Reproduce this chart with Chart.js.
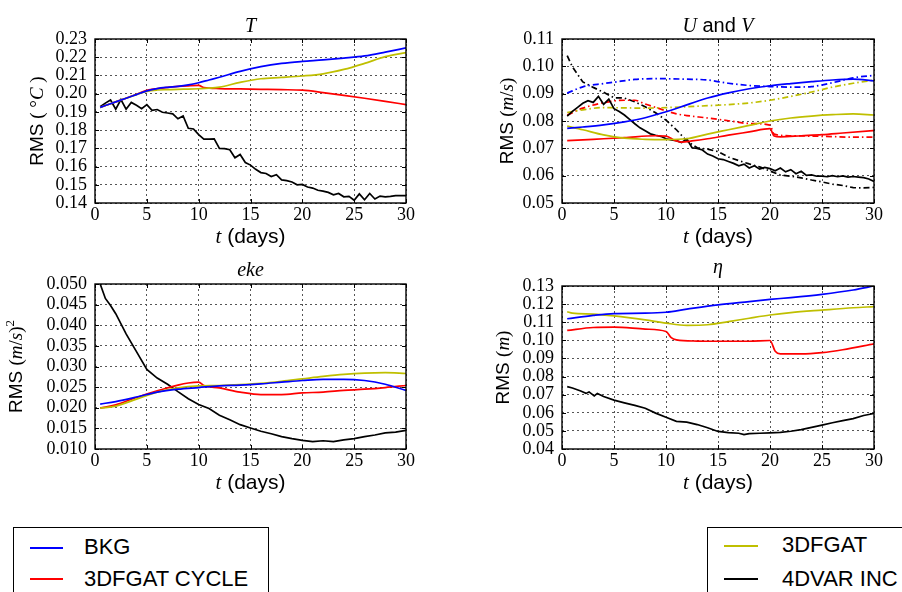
<!DOCTYPE html>
<html lang="en">
<head>
<meta charset="UTF-8" />
<title>RMS over time</title>
<script src="https://cdn.jsdelivr.net/npm/chart.js@4.4.0/dist/chart.umd.min.js"></script>
<style>
  body { margin: 0; background: #fff; width: 902px; height: 592px; position: relative; overflow: hidden; }
  canvas { position: absolute; }
  .legend { position: absolute; border: 1px solid #000; background: #fff; font: 22px "Liberation Sans", Arial, sans-serif; color: #000; }
  .legend .row { position: absolute; height: 30px; line-height: 30px; white-space: nowrap; }
  .legend .sw { position: absolute; height: 2px; }
</style>
</head>
<body>
<canvas id="cT" width="451" height="260" style="left:0;top:0"></canvas>
<canvas id="cUV" width="451" height="260" style="left:451px;top:0"></canvas>
<canvas id="cEke" width="451" height="250" style="left:0;top:260px"></canvas>
<canvas id="cEta" width="451" height="250" style="left:451px;top:260px"></canvas>

<div class="legend" style="left:13px;top:527px;width:254px;height:90px">
  <div class="sw" style="left:16px;width:33px;top:19px;background:#0000ff"></div>
  <div class="row" style="left:70px;top:4px">BKG</div>
  <div class="sw" style="left:16px;width:33px;top:50px;background:#ff0000"></div>
  <div class="row" style="left:70px;top:36px">3DFGAT CYCLE</div>
</div>
<div class="legend" style="left:707px;top:527px;width:240px;height:90px">
  <div class="sw" style="left:16px;width:34px;top:17px;background:#bfbf00"></div>
  <div class="row" style="left:74px;top:2px">3DFGAT</div>
  <div class="sw" style="left:16px;width:34px;top:50px;background:#000"></div>
  <div class="row" style="left:74px;top:36px">4DVAR INC</div>
</div>

<script>
// ---- T panel ----
const tDays = [0.5, 1, 2, 3, 4, 5, 6, 7, 8, 9, 10, 11, 12, 14, 16, 18, 20, 22, 24, 26, 28, 30];
const tBkg = [0.1925, 0.1935, 0.1955, 0.1975, 0.1995, 0.2015, 0.2028, 0.2035, 0.204, 0.2048, 0.206, 0.2075, 0.209, 0.2122, 0.2148, 0.2166, 0.2177, 0.2185, 0.2195, 0.2207, 0.2228, 0.2251];
const t3dfgat = [0.1925, 0.1935, 0.1955, 0.1975, 0.1995, 0.2013, 0.202, 0.2022, 0.2024, 0.2025, 0.2027, 0.203, 0.2036, 0.2062, 0.2082, 0.2089, 0.2097, 0.2109, 0.2133, 0.2166, 0.2203, 0.2225];
const tCycleDays = [0.5, 1, 2, 3, 4, 5, 6, 7, 8, 9, 10, 10.5, 12, 14, 16, 18, 20, 22, 24, 26, 28, 30];
const tCycle = [0.1925, 0.1935, 0.1955, 0.1975, 0.1997, 0.2018, 0.2028, 0.2035, 0.204, 0.2043, 0.2045, 0.2033, 0.2028, 0.2026, 0.2024, 0.2022, 0.2019, 0.2006, 0.1991, 0.1975, 0.1958, 0.194];
const tVarDays = [0.5, 1, 1.5, 2, 2.5, 3, 3.5, 4, 4.5, 5, 5.5, 6, 6.5, 7, 7.5, 8, 8.5, 9, 9.5, 10, 10.5, 11, 11.5, 12, 12.5, 13, 13.5, 14, 14.5, 15, 15.5, 16, 16.5, 17, 17.5, 18, 18.5, 19, 19.5, 20, 20.5, 21, 21.5, 22, 22.5, 23, 23.5, 24, 24.5, 25, 25.5, 26, 26.5, 27, 27.5, 28, 28.5, 29, 29.5, 30];
const tVar = [0.1928, 0.1948, 0.1965, 0.1915, 0.1968, 0.1915, 0.1952, 0.1936, 0.1918, 0.194, 0.1908, 0.1913, 0.1898, 0.1894, 0.1889, 0.1862, 0.1878, 0.181, 0.1806, 0.1775, 0.175, 0.175, 0.1752, 0.17, 0.1698, 0.1692, 0.1648, 0.1666, 0.1622, 0.1608, 0.1585, 0.1567, 0.1562, 0.1545, 0.1555, 0.1527, 0.1523, 0.1515, 0.15, 0.1502, 0.1488, 0.1482, 0.147, 0.1465, 0.1458, 0.1445, 0.1452, 0.1434, 0.1436, 0.1415, 0.145, 0.1418, 0.1452, 0.1422, 0.1438, 0.1434, 0.1436, 0.144, 0.1441, 0.1441];

// ---- U and V panel (solid = U, dash-dot = V) ----
const uvDays = [0.5, 2, 4, 6, 8, 10, 12, 14, 16, 18, 20, 22, 24, 26, 28, 30];
const uBkg = [0.0773, 0.0778, 0.0786, 0.0797, 0.0812, 0.0834, 0.0859, 0.0884, 0.0903, 0.0918, 0.0929, 0.0937, 0.0944, 0.095, 0.0953, 0.0947];
const u3dfgat = [0.0781, 0.0768, 0.0749, 0.0737, 0.0733, 0.0732, 0.0735, 0.0752, 0.0768, 0.0784, 0.08, 0.0811, 0.0818, 0.0823, 0.0826, 0.0822];
const uCycleDays = [0.5, 3, 6, 9, 10, 10.8, 11.5, 12.5, 14, 16, 18, 20, 20.4, 21, 23, 25, 27, 30];
const uCycle = [0.0728, 0.0733, 0.0739, 0.0746, 0.0745, 0.073, 0.0723, 0.0727, 0.0735, 0.0748, 0.076, 0.0772, 0.0745, 0.0742, 0.0746, 0.075, 0.0756, 0.0765];
const uVarDays = tVarDays;
const uVar = [0.0818, 0.0835, 0.085, 0.0865, 0.0874, 0.0868, 0.089, 0.0861, 0.088, 0.0845, 0.0835, 0.0822, 0.0806, 0.079, 0.0775, 0.0764, 0.0753, 0.0748, 0.0744, 0.0735, 0.0731, 0.0728, 0.0721, 0.0735, 0.0702, 0.07, 0.0694, 0.0679, 0.0672, 0.0662, 0.0659, 0.0652, 0.0645, 0.0636, 0.0642, 0.0628, 0.0636, 0.0624, 0.063, 0.0626, 0.0618, 0.0628, 0.0614, 0.0622, 0.0607, 0.0616, 0.0601, 0.0603, 0.0598, 0.0598, 0.0596, 0.06, 0.0596, 0.0599, 0.0595, 0.0597, 0.0595, 0.0593, 0.0588, 0.0579];
const vBkgDays = [0.5, 2, 4, 5, 7, 9, 12, 14, 16, 18, 20, 22, 24, 26, 28, 30];
const vBkg = [0.0902, 0.0925, 0.0937, 0.0942, 0.0952, 0.0955, 0.0953, 0.095, 0.0938, 0.093, 0.0926, 0.0924, 0.0926, 0.094, 0.0958, 0.0967];
const v3dfgat = [0.0831, 0.0841, 0.0849, 0.0848, 0.0847, 0.0849, 0.0852, 0.0856, 0.086, 0.0866, 0.0876, 0.089, 0.0906, 0.0924, 0.0938, 0.095];
const vCycleDays = [0.5, 2, 4, 6, 7, 8, 9, 10, 11, 12, 14, 16, 18, 20, 20.4, 22, 25, 28, 30];
const vCycle = [0.0822, 0.0847, 0.0867, 0.0876, 0.0876, 0.0862, 0.085, 0.0837, 0.0826, 0.082, 0.0811, 0.0801, 0.0791, 0.0785, 0.0752, 0.0746, 0.0744, 0.0741, 0.0741];
const vVarDays = [0.5, 1, 2, 3, 4, 5, 6, 7, 8, 9, 10, 11, 12, 13, 14, 15, 16, 17, 18, 19, 20, 21, 22, 23, 24, 25, 26, 27, 28, 29, 30];
const vVar = [0.1039, 0.0998, 0.0943, 0.0923, 0.0905, 0.0885, 0.0884, 0.087, 0.0852, 0.083, 0.0803, 0.0768, 0.0727, 0.0702, 0.0697, 0.0688, 0.0668, 0.0655, 0.0643, 0.0632, 0.0617, 0.0602, 0.0598, 0.0592, 0.0584, 0.0577, 0.0569, 0.0564, 0.0556, 0.0555, 0.0557];

// ---- eke panel ----
const ekeDays = [0.5, 2, 4, 6, 8, 10, 12, 14, 16, 18, 20, 22, 24, 26, 28, 30];
const ekeBkg = [0.0209, 0.0215, 0.0226, 0.0238, 0.0245, 0.0249, 0.0253, 0.0255, 0.0258, 0.0262, 0.0266, 0.0269, 0.0269, 0.0266, 0.0257, 0.0242];
const eke3dfgat = [0.0199, 0.0204, 0.0221, 0.0238, 0.0248, 0.0253, 0.0254, 0.0256, 0.0259, 0.0264, 0.027, 0.0276, 0.0281, 0.0284, 0.0285, 0.0283];
const ekeCycleDays = [0.5, 2, 4, 6, 8, 9, 10, 10.5, 12, 14, 16, 18, 20, 22, 24, 26, 28, 30];
const ekeCycle = [0.0199, 0.0207, 0.0225, 0.0241, 0.0255, 0.026, 0.0262, 0.0254, 0.0248, 0.0238, 0.0232, 0.0232, 0.0236, 0.0238, 0.0242, 0.0245, 0.0249, 0.0254];
const ekeVarDays = [0.5, 1, 1.5, 2, 3, 4, 5, 6, 7, 8, 9, 10, 11, 12, 13, 14, 15, 16, 17, 18, 19, 20, 21, 22, 23, 24, 25, 26, 27, 28, 29, 30];
const ekeVar = [0.05, 0.0465, 0.0448, 0.0428, 0.0379, 0.0336, 0.0293, 0.0272, 0.0257, 0.0239, 0.0222, 0.0208, 0.0198, 0.0182, 0.0171, 0.0159, 0.0151, 0.0143, 0.0137, 0.013, 0.0125, 0.0121, 0.0118, 0.012, 0.0118, 0.0122, 0.0125, 0.013, 0.0134, 0.0139, 0.0141, 0.0145];

// ---- eta panel ----
const etaBkgDays = [0.5, 3, 5, 8, 10, 12, 15, 18, 20, 22, 25, 28, 30];
const etaBkg = [0.1119, 0.1138, 0.1148, 0.115, 0.1155, 0.1172, 0.1196, 0.1214, 0.1226, 0.1236, 0.1254, 0.1278, 0.13];
const eta3dfgatDays = [0.5, 1, 3, 5, 8, 10, 12, 14, 16, 18, 20, 22, 25, 28, 30];
const eta3dfgat = [0.1158, 0.115, 0.1145, 0.1135, 0.1113, 0.1095, 0.1083, 0.1086, 0.1103, 0.1122, 0.114, 0.1153, 0.1167, 0.118, 0.1186];
const etaCycleDays = [0.5, 3, 5, 8, 10, 10.5, 11, 13, 15, 18, 20, 20.5, 21, 23, 25, 27, 30];
const etaCycle = [0.1055, 0.1071, 0.1073, 0.1062, 0.1049, 0.1015, 0.1003, 0.0996, 0.0995, 0.0995, 0.0999, 0.094, 0.0925, 0.0925, 0.0932, 0.0948, 0.0981];
const etaVarDays = [0.5, 1, 1.8, 2.3, 2.6, 3.1, 3.4, 4, 5, 6, 7, 8, 9, 10, 11, 12, 13, 14, 15, 16, 17, 17.5, 18, 19, 20, 21, 22, 23, 24, 25, 26, 27, 28, 29, 30];
const etaVar = [0.0744, 0.0737, 0.072, 0.0707, 0.0715, 0.0693, 0.0707, 0.069, 0.067, 0.0655, 0.0641, 0.0625, 0.0598, 0.0575, 0.0553, 0.0548, 0.0535, 0.0517, 0.0497, 0.049, 0.0487, 0.0479, 0.0485, 0.0487, 0.0489, 0.0492, 0.0498, 0.0507, 0.0519, 0.0532, 0.0545, 0.0557, 0.0568, 0.0585, 0.0596];

const BLUE = "#0000ff", RED = "#ff0000", YELLOW = "#bfbf00", BLACK = "#000000";
const DASHDOT = [6, 3, 1.5, 3];

const SANS = '"Liberation Sans", Arial, sans-serif';
const SERIF = '"Liberation Serif", "Times New Roman", serif';

// tick labels use the serif face
Chart.defaults.font.family = SERIF;
Chart.defaults.font.size = 18;
Chart.defaults.color = "#000";

function pts(days, vals) {
  return days.map((d, i) => ({ x: d, y: vals[i] }));
}
function line(days, vals, color, dash, smooth) {
  return {
    data: pts(days, vals),
    borderColor: color,
    borderWidth: 1.7,
    borderDash: dash || [],
    pointRadius: 0,
    fill: false,
    cubicInterpolationMode: smooth ? "monotone" : "default",
    tension: 0,
  };
}

// draws a run of text pieces with different fonts, centred on (x, y)
function richText(ctx, parts, x, y, angle) {
  ctx.save();
  ctx.translate(x, y);
  ctx.rotate(angle);
  ctx.fillStyle = "#000";
  ctx.textBaseline = "alphabetic";
  ctx.textAlign = "left";
  let w = 0;
  parts.forEach((p) => { ctx.font = p.f; p.w = ctx.measureText(p.t).width; w += p.w; });
  let cx = -w / 2;
  parts.forEach((p) => { ctx.font = p.f; ctx.fillText(p.t, cx, p.dy || 0); cx += p.w; });
  ctx.restore();
}

// frame, inward ticks, title and axis labels (matplotlib look)
const deco = {
  id: "deco",
  afterDraw(chart, args, o) {
    const { ctx, chartArea: a, scales } = chart;
    ctx.save();
    ctx.strokeStyle = "#000";
    ctx.lineWidth = 1;
    ctx.beginPath();
    scales.x.ticks.forEach((t) => {
      const px = Math.round(scales.x.getPixelForValue(t.value)) + 0.5;
      ctx.moveTo(px, a.bottom); ctx.lineTo(px, a.bottom - 4);
      ctx.moveTo(px, a.top); ctx.lineTo(px, a.top + 4);
    });
    scales.y.ticks.forEach((t) => {
      const py = Math.round(scales.y.getPixelForValue(t.value)) + 0.5;
      ctx.moveTo(a.left, py); ctx.lineTo(a.left + 4, py);
      ctx.moveTo(a.right, py); ctx.lineTo(a.right - 4, py);
    });
    ctx.stroke();
    ctx.lineWidth = 1.4;
    ctx.strokeRect(a.left, a.top, a.right - a.left, a.bottom - a.top);
    ctx.restore();
    const mid = (a.left + a.right) / 2;
    richText(ctx, o.title, mid, a.top - o.titleGap, 0);
    richText(ctx, [
      { t: "t", f: "italic 21px " + SERIF },
      { t: " (days)", f: "21px " + SANS },
    ], mid, a.bottom + 40, 0);
    richText(ctx, o.ylabel, o.ylabX, (a.top + a.bottom) / 2, -Math.PI / 2);
  },
};
Chart.register(deco);

function makeChart(id, area, H, W, yMin, yMax, yStep, dec, datasets, decoOpts) {
  const tickFont = () => ({ family: SERIF, size: 18, lineHeight: 1 });
  return new Chart(document.getElementById(id), {
    type: "line",
    data: { datasets: datasets },
    options: {
      responsive: false,
      animation: false,
      devicePixelRatio: 1,
      layout: { padding: { left: 0, top: area.t, right: W - area.r, bottom: 0 } },
      plugins: { legend: { display: false }, tooltip: { enabled: false }, deco: decoOpts },
      scales: {
        x: {
          type: "linear",
          min: 0,
          max: 30,
          ticks: { stepSize: 5, autoSkip: false, maxRotation: 0, padding: 3, color: "#000", font: tickFont() },
          grid: { color: "#555", lineWidth: 1, drawTicks: false },
          border: { display: false, dash: [2, 3] },
          afterFit: (s) => { s.height = H - area.b; },
        },
        y: {
          type: "linear",
          min: yMin,
          max: yMax,
          ticks: { stepSize: yStep, autoSkip: false, padding: 8, color: "#000", font: tickFont(), callback: (v) => v.toFixed(dec) },
          grid: { color: "#555", lineWidth: 1, drawTicks: false },
          border: { display: false, dash: [2, 3] },
          afterFit: (s) => { s.width = area.l; },
        },
      },
    },
  });
}

const F = (style, size, fam) => (style ? style + " " : "") + size + "px " + fam;

makeChart("cT", { l: 95, r: 406, t: 39, b: 203 }, 260, 451, 0.14, 0.23, 0.01, 2, [
  line(tDays, tBkg, BLUE, null, true),
  line(tDays, t3dfgat, YELLOW, null, true),
  line(tCycleDays, tCycle, RED, null, true),
  line(tVarDays, tVar, BLACK, null, false),
], {
  title: [{ t: "T", f: F("italic", 20, SERIF) }],
  titleGap: 7,
  ylabel: [
    { t: "RMS", f: F("", 19, SANS) },
    { t: " ( ", f: F("", 19, SERIF) },
    { t: "°", f: F("", 19, SERIF) },
    { t: "C", f: F("italic", 19, SERIF) },
    { t: " )", f: F("", 19, SERIF) },
  ],
  ylabX: 43,
});

makeChart("cUV", { l: 111, r: 423, t: 39, b: 203 }, 260, 451, 0.05, 0.11, 0.01, 2, [
  line(uvDays, uBkg, BLUE, null, true),
  line(uvDays, u3dfgat, YELLOW, null, true),
  line(uCycleDays, uCycle, RED, null, true),
  line(uVarDays, uVar, BLACK, null, false),
  line(vBkgDays, vBkg, BLUE, DASHDOT, true),
  line(uvDays, v3dfgat, YELLOW, DASHDOT, true),
  line(vCycleDays, vCycle, RED, DASHDOT, true),
  line(vVarDays, vVar, BLACK, DASHDOT, false),
], {
  title: [
    { t: "U", f: F("italic", 20, SERIF) },
    { t: " and ", f: F("", 20, SANS) },
    { t: "V", f: F("italic", 20, SERIF) },
  ],
  titleGap: 7,
  ylabel: [
    { t: "RMS ", f: F("", 19, SANS) },
    { t: "(", f: F("", 19, SERIF) },
    { t: "m", f: F("italic", 19, SERIF) },
    { t: "/", f: F("", 19, SERIF) },
    { t: "s", f: F("italic", 19, SERIF) },
    { t: ")", f: F("", 19, SERIF) },
  ],
  ylabX: 62,
});

makeChart("cEke", { l: 95, r: 406, t: 24, b: 189 }, 250, 451, 0.01, 0.05, 0.005, 3, [
  line(ekeDays, ekeBkg, BLUE, null, true),
  line(ekeDays, eke3dfgat, YELLOW, null, true),
  line(ekeCycleDays, ekeCycle, RED, null, true),
  line(ekeVarDays, ekeVar, BLACK, null, false),
], {
  title: [{ t: "eke", f: F("italic", 20, SERIF) }],
  titleGap: 8,
  ylabel: [
    { t: "RMS ", f: F("", 19, SANS) },
    { t: "(", f: F("", 19, SERIF) },
    { t: "m", f: F("italic", 19, SERIF) },
    { t: "/", f: F("", 19, SERIF) },
    { t: "s", f: F("italic", 19, SERIF) },
    { t: ")", f: F("", 19, SERIF) },
    { t: "2", f: F("", 13, SERIF), dy: -8 },
  ],
  ylabX: 22,
});

makeChart("cEta", { l: 111, r: 423, t: 26, b: 189 }, 250, 451, 0.04, 0.13, 0.01, 2, [
  line(etaBkgDays, etaBkg, BLUE, null, true),
  line(eta3dfgatDays, eta3dfgat, YELLOW, null, true),
  line(etaCycleDays, etaCycle, RED, null, true),
  line(etaVarDays, etaVar, BLACK, null, false),
], {
  title: [{ t: "η", f: F("italic", 20, SERIF) }],
  titleGap: 13,
  ylabel: [
    { t: "RMS ", f: F("", 19, SANS) },
    { t: "(", f: F("", 19, SERIF) },
    { t: "m", f: F("italic", 19, SERIF) },
    { t: ")", f: F("", 19, SERIF) },
  ],
  ylabX: 58,
});
</script>
</body>
</html>
